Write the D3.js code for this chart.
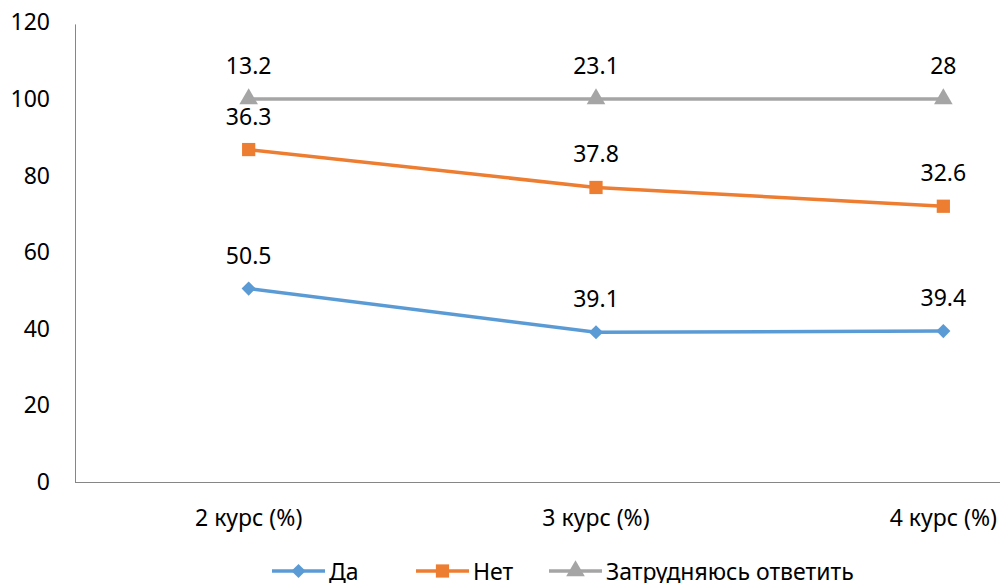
<!DOCTYPE html>
<html>
<head>
<meta charset="utf-8">
<script src="https://cdn.jsdelivr.net/npm/d3@7"></script>
<style>
  body { margin: 0; background: #fff; }
  text { font-family: "Noto Sans", "Open Sans", sans-serif; fill: #000; }
</style>
</head>
<body>
<div id="chart"></div>
<script>
// data
var categories = ["2 курс (%)", "3 курс (%)", "4 курс (%)"];
var seriesNames = ["Да", "Нет", "Затрудняюсь ответить"];
var yesValues = [50.5, 39.1, 39.4];
var noValues = [36.3, 37.8, 32.6];
var unsureValues = [13.2, 23.1, 28];
var yTicks = [0, 20, 40, 60, 80, 100, 120];
var colors = ["#5B9BD5", "#ED7D31", "#A5A5A5"];

var W = 1000, H = 583;
var svg = d3.select("#chart").append("svg")
    .attr("width", W).attr("height", H);

// marker shapes: diamond = rotated square
function marker(sel, i) {
    if (i == 0) {
        sel.attr("d", d3.symbol().type(d3.symbolSquare).size(100)());
        return 45;
    }
    sel.attr("d", d3.symbol().type(i == 1 ? d3.symbolSquare : d3.symbolTriangle).size(i == 1 ? 175 : 150)());
    return 0;
}

// stacked line chart (values are cumulative)
var rows = categories.map(function(c, i) {
    return {cat: c, "Да": yesValues[i], "Нет": noValues[i], "Затрудняюсь ответить": unsureValues[i]};
});
var stacked = d3.stack().keys(seriesNames)(rows);

var x = d3.scaleBand().domain(categories).range([75, 1117]);
var y = d3.scaleLinear().domain([0, 120]).range([482, 22.4]);

// y axis labels (no ticks)
svg.append("g").selectAll("text")
    .data(yTicks).enter().append("text")
    .attr("x", 50)
    .attr("y", d => y(d))
    .attr("dy", "0.35em")
    .attr("text-anchor", "end")
    .style("font-size", "23px")
    .text(d => d);

// axis lines
svg.append("line")
    .attr("x1", 75.5).attr("x2", 75.5)
    .attr("y1", y(120) + 2).attr("y2", y(0))
    .attr("stroke", "#868686").attr("stroke-width", 1);
svg.append("line")
    .attr("x1", 75).attr("x2", W)
    .attr("y1", y(0) + 0.5).attr("y2", y(0) + 0.5)
    .attr("stroke", "#868686").attr("stroke-width", 1);

// category labels
svg.append("g").selectAll("text")
    .data(categories).enter().append("text")
    .attr("x", d => x(d) + x.bandwidth() / 2)
    .attr("y", 526)
    .attr("text-anchor", "middle")
    .style("font-size", "23px")
    .text(d => d);

var line = d3.line()
    .x(d => x(d.data.cat) + x.bandwidth() / 2)
    .y(d => y(d[1]));

stacked.forEach(function(s, i) {
    var g = svg.append("g");
    g.append("path")
        .datum(s)
        .attr("d", line)
        .attr("fill", "none")
        .attr("stroke", colors[i])
        .attr("stroke-width", 3.5);
    g.selectAll("path.m")
        .data(s).enter().append("path")
        .attr("class", "m")
        .each(function(d) {
            var rot = marker(d3.select(this), i);
            d3.select(this).attr("transform", "translate(" + (x(d.data.cat) + x.bandwidth() / 2) + "," + y(d[1]) + ") rotate(" + rot + ")");
        })
        .attr("fill", colors[i]);
    g.selectAll("text")
        .data(s).enter().append("text")
        .attr("x", d => x(d.data.cat) + x.bandwidth() / 2)
        .attr("y", d => y(d[1]) - 25)
        .attr("text-anchor", "middle")
        .style("font-size", "23px")
        .text(d => d.data[s.key]);
});

// legend
var legendX = [272, 416, 549];
var legend = svg.append("g");
seriesNames.forEach(function(name, i) {
    var lg = legend.append("g").attr("transform", "translate(" + legendX[i] + ",571)");
    lg.append("line")
        .attr("x1", 0).attr("x2", 53)
        .attr("stroke", colors[i]).attr("stroke-width", 3.5);
    var m = lg.append("path").attr("fill", colors[i]);
    var rot = marker(m, i);
    m.attr("transform", "translate(26.5,0) rotate(" + rot + ")");
    lg.append("text")
        .attr("x", 57)
        .attr("y", 1)
        .attr("dy", "0.35em")
        .style("font-size", "23px")
        .text(name);
});
</script>
</body>
</html>
